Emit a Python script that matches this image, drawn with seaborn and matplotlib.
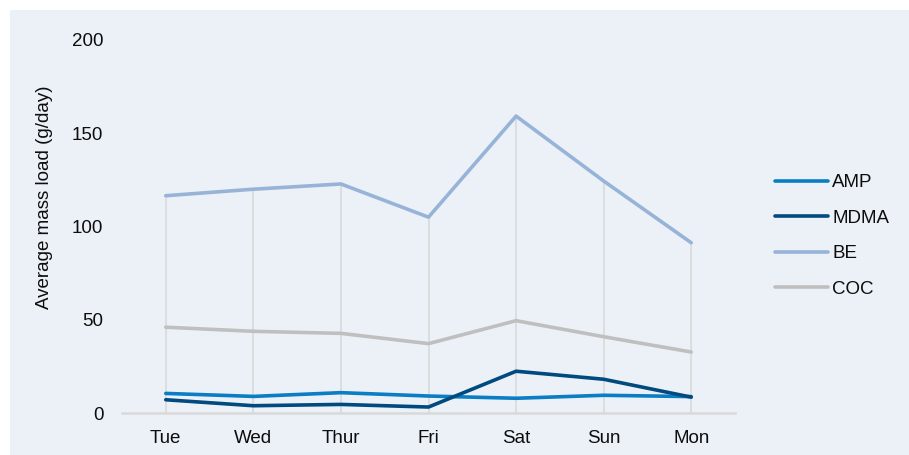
import matplotlib
matplotlib.use("Agg")
import matplotlib.pyplot as plt
import seaborn as sns
import pandas as pd
import numpy as np
from matplotlib.patches import Rectangle
from matplotlib.lines import Line2D

days = ["Tue", "Wed", "Thur", "Fri", "Sat", "Sun", "Mon"]
amp = [10.5, 8.9, 10.9, 9.1, 7.9, 9.5, 8.8]
mdma = [7.1, 3.9, 4.6, 3.2, 22.4, 18.1, 8.5]
be = [116.5, 120.0, 122.8, 105.0, 159.2, 124.4, 91.3]
coc = [46.0, 43.8, 42.7, 37.2, 49.5, 40.9, 32.7]
series_names = ["AMP", "MDMA", "BE", "COC"]
colors = ["#0A7DC4", "#004A7F", "#97B4D8", "#BFBFBF"]

sns.set_theme(style="white")
plt.rcParams["font.family"] = ["Liberation Sans", "DejaVu Sans"]

FS = 13.5
TXT = "#0D0D0D"
bg = "#ECF1F8"
fig = plt.figure(figsize=(9.09, 4.55), dpi=100, facecolor="white")
fig.patches.append(Rectangle((10 / 909, 0), 1, 1 - 10 / 455, transform=fig.transFigure,
                             facecolor=bg, edgecolor="none", zorder=-10))
ax = fig.add_axes([122 / 909, 42 / 455, 613 / 909, 373 / 455])
ax.set_facecolor(bg)
ax.patch.set_alpha(0)

df = pd.DataFrame({
    "day": np.tile(np.arange(len(days)), 4),
    "value": amp + mdma + be + coc,
    "series": np.repeat(series_names, len(days)),
})

# drop lines from highest series down to axis
tops = np.max(np.vstack([amp, mdma, be, coc]), axis=0)
ax.vlines(np.arange(len(days)), 0, tops, color="#D9D9D9", lw=1.2, zorder=1)

sns.lineplot(data=df, x="day", y="value", hue="series", hue_order=series_names,
             palette=colors, lw=2.6, ax=ax, legend=False, zorder=3,
             solid_capstyle="round")

ax.set_xlim(-0.5, 6.5)
ax.set_ylim(0, 200)
ax.set_yticks([0, 50, 100, 150, 200])
ax.set_xticks(np.arange(len(days)))
ax.set_xticklabels(days)
ax.tick_params(axis="both", length=0, labelsize=FS, labelcolor=TXT)
ax.tick_params(axis="y", pad=13.5)
ax.tick_params(axis="x", pad=12)
for s in ["top", "right", "left"]:
    ax.spines[s].set_visible(False)
ax.spines["bottom"].set_color("#D9D9D9")
ax.spines["bottom"].set_linewidth(1.8)
ax.set_xlabel("")
ax.set_ylabel("Average mass load (g/day)", fontsize=FS, color=TXT)
ax.yaxis.set_label_coords((53 - 122) / 613, (413 - 197) / 373)

handles = [Line2D([0], [0], color=c, lw=2.6, solid_capstyle="round") for c in colors]
leg = fig.legend(handles, series_names, loc="center left",
                 bbox_to_anchor=(775 / 909, 1 - 236 / 455), frameon=False,
                 borderaxespad=0, borderpad=0,
                 fontsize=FS, handlelength=2.85, handletextpad=0.2, labelspacing=0.98)
for t in leg.get_texts():
    t.set_color(TXT)

fig.savefig("out.png", dpi=100, facecolor="white")
